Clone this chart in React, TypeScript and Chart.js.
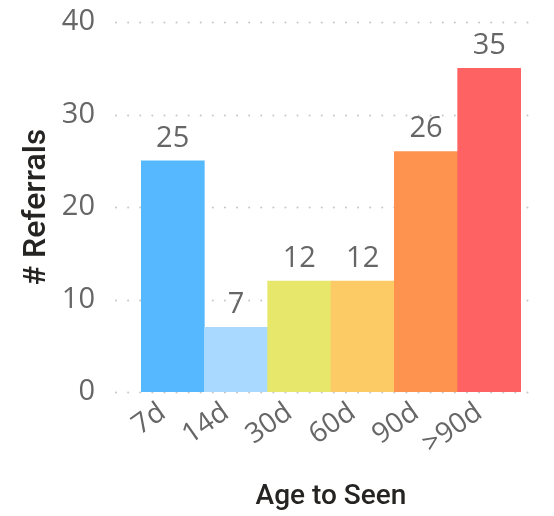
import React, { useEffect, useRef } from "react";
import { Chart, registerables } from "chart.js";

Chart.register(...registerables);

const categories = ["7d", "14d", "30d", "60d", "90d", ">90d"];
const referrals = [25, 7, 12, 12, 26, 35];
const barColors = ["#56B9FF", "#AAD9FF", "#E7E86B", "#FDCB66", "#FE9350", "#FE6262"];
const yTicks = [0, 10, 20, 30, 40];

const LABEL_FONT = "'Segoe UI', 'Open Sans', sans-serif";
const TITLE_FONT = "'DIN', 'Roboto', sans-serif";

const dottedGrid = {
  id: "dottedGrid",
  beforeDatasetsDraw(chart: any) {
    const { ctx, chartArea, scales } = chart;
    const y = scales.y;
    ctx.save();
    ctx.strokeStyle = "#c8c8c8";
    ctx.lineWidth = 2;
    ctx.lineCap = "round";
    ctx.setLineDash([0.1, 12]);
    for (const v of yTicks) {
      const py = Math.round(y.getPixelForValue(v)) + 0.5;
      ctx.beginPath();
      ctx.moveTo(chartArea.left - 25, py);
      ctx.lineTo(chartArea.right + 17, py);
      ctx.stroke();
    }
    ctx.restore();
  },
};

const valueLabels = {
  id: "valueLabels",
  afterDatasetsDraw(chart: any) {
    const { ctx } = chart;
    const meta = chart.getDatasetMeta(0);
    ctx.save();
    ctx.fillStyle = "#666666";
    ctx.font = `29px ${LABEL_FONT}`;
    ctx.textAlign = "center";
    ctx.textBaseline = "bottom";
    meta.data.forEach((bar: any, i: number) => {
      ctx.fillText(String(referrals[i]), bar.x, bar.y - 8);
    });
    ctx.restore();
  },
};

export default function App() {
  const ref = useRef<HTMLCanvasElement | null>(null);
  useEffect(() => {
    document.body.style.margin = "0";
    const chart = new Chart(ref.current!, {
      type: "bar",
      data: {
        labels: categories,
        datasets: [
          {
            data: referrals,
            backgroundColor: barColors,
            barPercentage: 1,
            categoryPercentage: 1,
            borderWidth: 0,
          },
        ],
      },
      options: {
        animation: false,
        responsive: false,
        layout: { padding: { left: 0, right: 33, top: 22, bottom: 0 } },
        plugins: { legend: { display: false }, tooltip: { enabled: false } },
        scales: {
          x: {
            grid: { display: false, drawTicks: false },
            border: { display: false },
            ticks: {
              color: "#666666",
              font: { family: LABEL_FONT, size: 28 },
              minRotation: 35,
              maxRotation: 35,
              padding: 4,
              labelOffset: -10,
              autoSkip: false,
            },
            title: {
              display: true,
              text: "Age to Seen",
              color: "#252423",
              font: { family: TITLE_FONT, size: 28, weight: "500" },
              padding: { top: 0, bottom: 2 },
            },
            afterFit(scale: any) {
              scale.height = 516 - 392;
              scale.paddingLeft = 0;
              scale.paddingRight = 0;
            },
          },
          y: {
            min: 0,
            max: 40,
            grid: { display: false, drawTicks: false },
            border: { display: false },
            ticks: {
              stepSize: 10,
              color: "#666666",
              font: { family: LABEL_FONT, size: 29 },
              padding: 46,
            },
            title: {
              display: true,
              text: "# Referrals",
              color: "#252423",
              font: { family: TITLE_FONT, size: 32, weight: "500" },
              padding: { top: 18, bottom: 0 },
            },
            afterFit(scale: any) {
              scale.width = 141;
              scale.paddingTop = 0;
              scale.paddingBottom = 0;
            },
          },
        },
      },
      plugins: [dottedGrid, valueLabels],
    });
    return () => chart.destroy();
  }, []);
  return (
    <div style={{ width: 554, height: 516 }}>
      <canvas ref={ref} width={554} height={516} style={{ display: "block" }} />
    </div>
  );
}
